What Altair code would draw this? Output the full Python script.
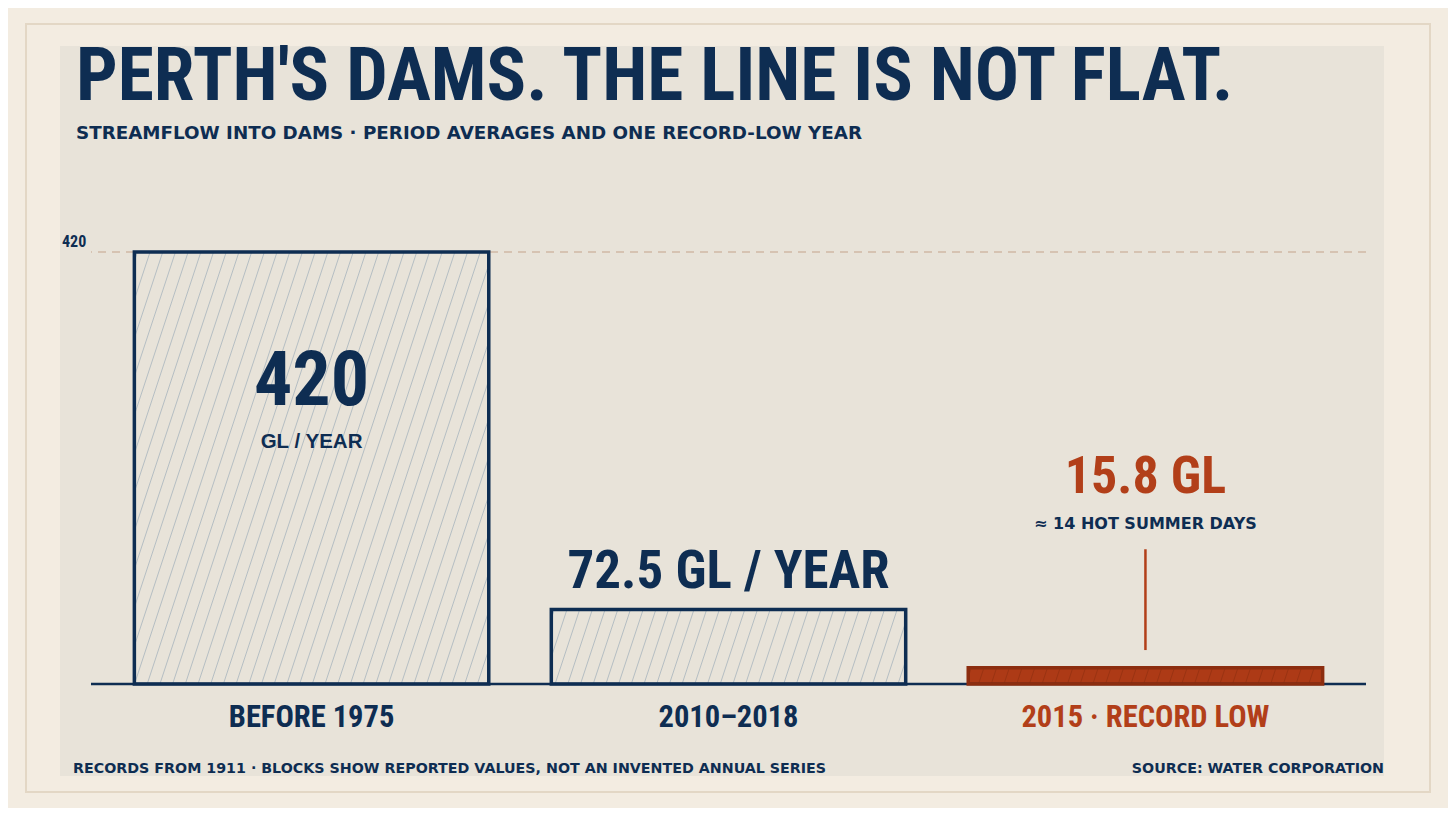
import altair as alt
import pandas as pd

# ---------------- data ----------------
categories = ["BEFORE 1975", "2010–2018", "2015 · RECORD LOW"]
values = [420, 72.5, 15.8]
title_text = "PERTH'S DAMS. THE LINE IS NOT FLAT."
subtitle_text = "STREAMFLOW INTO DAMS · PERIOD AVERAGES AND ONE RECORD-LOW YEAR"
footer_left = "RECORDS FROM 1911 · BLOCKS SHOW REPORTED VALUES, NOT AN INVENTED ANNUAL SERIES"
footer_right = "SOURCE: WATER CORPORATION"
big_labels = ["420", "72.5 GL / YEAR", "15.8 GL"]
small_labels = ["GL / YEAR", "", "≈ 14 HOT SUMMER DAYS"]
y_tick_values = [420]

# ---------------- style ----------------
NAVY = "#0e2d52"
RED = "#b23f19"
RED_FILL = "#ad3a16"
RED_STROKE = "#8c2d0f"
PANEL = "#e8e3d9"
PAGE = "#f3ece1"
FRAME = "#e3d7c5"
DASH = "#cfb9a5"
HATCH = "#b5bec3"
NARROW = "Liberation Sans Narrow, Roboto Condensed, DejaVu Sans Condensed, Arial Narrow, sans-serif"
WIDE = "DejaVu Sans, Verdana, sans-serif"
ARIAL = "Liberation Sans, Arial, Helvetica, sans-serif"

W, H = 1275, 432
P_IN, P_OUT = 0.15, 0.104
N = len(categories)
SPAN = N - P_IN + 2 * P_OUT          # band-scale range measured in steps
STEP = W / SPAN
BW = STEP * (1 - P_IN)
K = H / 420.0

df = pd.DataFrame({"cat": categories, "value": values})

xs = alt.Scale(domain=categories, paddingInner=P_IN, paddingOuter=P_OUT)
ys = alt.Scale(domain=[0, 420], nice=False, zero=True)
X = alt.X("cat:N", sort=categories, scale=xs, axis=None)
Y = alt.Y("value:Q", scale=ys, axis=None)


# ---------------- hatch texture (style, not data) ----------------
def hatch(idx, h_units, spacing=12.7, slope=0.33, phase=3.0):
    rows = []
    hp = h_units * K
    left = P_OUT + idx          # band start, in steps
    c = -slope * hp + phase
    while c < BW:
        y0 = max(0.0, -c / slope)
        y1 = min(hp, (BW - c) / slope)
        if y1 > y0:
            rows.append({"k": idx,
                         "hx": left + (c + slope * y0) / STEP, "hy": y0 / K,
                         "hx2": left + (c + slope * y1) / STEP, "hy2": y1 / K})
        c += spacing
    return rows


hatch_rows = []
for i_, v_ in enumerate(values):
    hatch_rows += hatch(i_, v_)
hdf = pd.DataFrame(hatch_rows)

# ---------------- decoration layers ----------------
one = pd.DataFrame({"t": [""]})

frame = alt.Chart(one).mark_rect(fill=PAGE, stroke=FRAME, strokeWidth=2).encode(
    x=alt.value(-65), x2=alt.value(1339), y=alt.value(-228), y2=alt.value(540))
panel = alt.Chart(one).mark_rect(fill=PANEL).encode(
    x=alt.value(-31), x2=alt.value(1293), y=alt.value(-206), y2=alt.value(524))

title = alt.Chart(pd.DataFrame({"t": [title_text]})).mark_text(
    font=NARROW, fontSize=73.5, fontWeight="bold", color=NAVY, align="left", baseline="alphabetic"
).encode(text="t:N", x=alt.value(-15), y=alt.value(-152))
subtitle = alt.Chart(pd.DataFrame({"t": [subtitle_text]})).mark_text(
    font=WIDE, fontSize=18.3, fontWeight="bold", color=NAVY, align="left", baseline="alphabetic"
).encode(text="t:N", x=alt.value(-15), y=alt.value(-113))
foot_l = alt.Chart(pd.DataFrame({"t": [footer_left]})).mark_text(
    font=WIDE, fontSize=14.25, fontWeight="bold", color=NAVY, align="left", baseline="alphabetic"
).encode(text="t:N", x=alt.value(-18), y=alt.value(521))
foot_r = alt.Chart(pd.DataFrame({"t": [footer_right]})).mark_text(
    font=WIDE, fontSize=14.25, fontWeight="bold", color=NAVY, align="right", baseline="alphabetic"
).encode(text="t:N", x=alt.value(1293), y=alt.value(521))

tick_df = pd.DataFrame({"value": y_tick_values, "t": [str(v) for v in y_tick_values]})
dash_rule = alt.Chart(tick_df).mark_rule(color=DASH, strokeWidth=1.5, strokeDash=[8, 6]).encode(y=Y)
tick_lbl = alt.Chart(tick_df).mark_text(
    font=NARROW, fontSize=16, fontWeight="bold", color=NAVY, align="left", baseline="alphabetic", dy=-5
).encode(y=Y, x=alt.value(-29), text="t:N")

# ---------------- bars ----------------
fill_scale = alt.Scale(domain=categories, range=["rgba(0,0,0,0)", "rgba(0,0,0,0)", RED_FILL])
stroke_scale = alt.Scale(domain=categories, range=[NAVY, NAVY, RED_STROKE])

bars_fill = alt.Chart(df).mark_bar(strokeWidth=0).encode(
    x=X, y=Y, fill=alt.Fill("cat:N", scale=fill_scale, legend=None))

hx_scale = alt.Scale(domain=[0, SPAN], nice=False, zero=False)
hatch_lines = alt.Chart(hdf).mark_rule(strokeWidth=1).encode(
    x=alt.X("hx:Q", scale=hx_scale, axis=None),
    x2="hx2:Q",
    y=alt.Y("hy:Q", scale=ys, axis=None),
    y2="hy2:Q",
    color=alt.condition(alt.datum.k == 2, alt.value("#9a3312"), alt.value(HATCH)),
)

bars_stroke = alt.Chart(df).mark_bar(fillOpacity=0, strokeWidth=3.5).encode(
    x=X, y=Y, stroke=alt.Stroke("cat:N", scale=stroke_scale, legend=None))

baseline = alt.Chart(pd.DataFrame({"value": [0]})).mark_rule(color=NAVY, strokeWidth=2.5).encode(y=Y)

# ---------------- annotations ----------------
ann = pd.DataFrame({"cat": categories, "value": values, "big": big_labels, "small": small_labels})
a1 = ann[ann.cat == categories[0]]
a2 = ann[ann.cat == categories[1]]
a3 = ann[ann.cat == categories[2]]

a1_big = alt.Chart(a1).mark_text(
    font=NARROW, fontSize=76, fontWeight="bold", color=NAVY, baseline="alphabetic", dy=153
).encode(x=X, y=Y, text="big:N")
a1_small = alt.Chart(a1).mark_text(
    font=ARIAL, fontSize=20.5, fontWeight="bold", color=NAVY, baseline="alphabetic", dy=196
).encode(x=X, y=Y, text="small:N")
a2_big = alt.Chart(a2).mark_text(
    font=NARROW, fontSize=53, fontWeight="bold", color=NAVY, baseline="alphabetic", dy=-21
).encode(x=X, y=Y, text="big:N")
a3_big = alt.Chart(a3).mark_text(
    font=NARROW, fontSize=52, fontWeight="bold", color=RED, baseline="alphabetic", dy=-175
).encode(x=X, y=Y, text="big:N")
a3_small = alt.Chart(a3).mark_text(
    font=WIDE, fontSize=16, fontWeight="bold", color=NAVY, baseline="alphabetic", dy=-139
).encode(x=X, y=Y, text="small:N")
leader = alt.Chart(a3.assign(top=131, bot=33)).mark_rule(color=RED, strokeWidth=2.5).encode(
    x=X, y=alt.Y("top:Q", scale=ys, axis=None), y2="bot:Q")

cat_lbl = alt.Chart(ann.assign(zero=0)).mark_text(
    font=NARROW, fontSize=30.5, fontWeight="bold", baseline="alphabetic", dy=43
).encode(
    x=X,
    y=alt.Y("zero:Q", scale=ys, axis=None),
    text="cat:N",
    color=alt.condition(alt.datum.cat == categories[2], alt.value(RED), alt.value(NAVY)),
)

back = alt.layer(frame, panel, title, subtitle, dash_rule, tick_lbl, bars_fill)
front = alt.layer(baseline, bars_stroke, a1_big, a1_small, a2_big, a3_big, a3_small,
                  leader, cat_lbl, foot_l, foot_r)

chart = alt.layer(back, hatch_lines, front).resolve_scale(x="independent").properties(
    width=W, height=H,
    autosize=alt.AutoSizeParams(type="none"),
    padding={"left": 83, "top": 244, "right": 82, "bottom": 124},
    background=PAGE,
).configure_view(stroke=None)

chart.save("out.html", embed_options={"renderer": "svg", "actions": False})
